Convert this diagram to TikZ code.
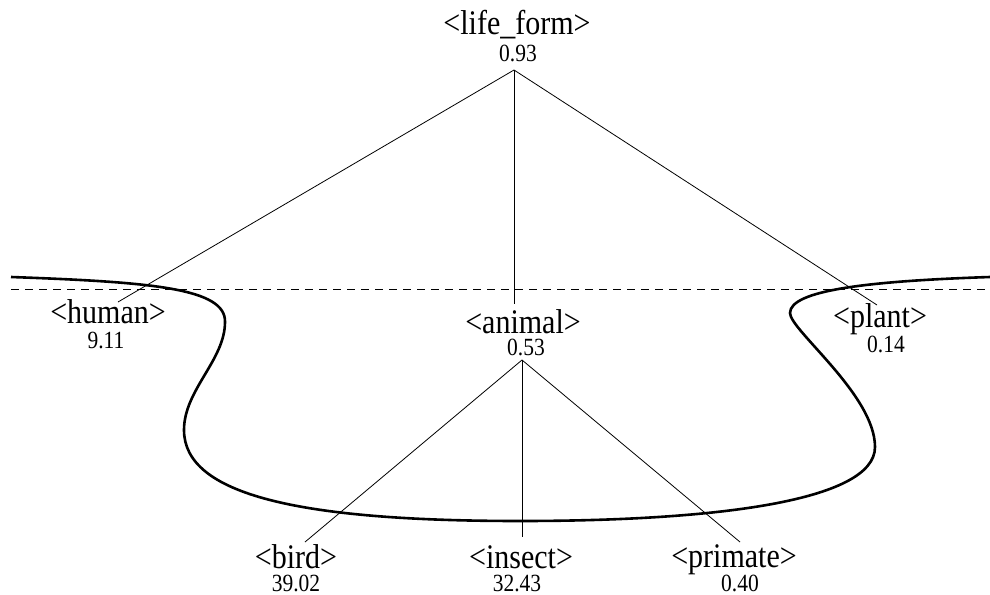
\documentclass[tikz,border=0pt]{standalone}
\usepackage{fontspec}
\setmainfont{Liberation Serif}
\newcommand\talltext[1]{\scalebox{1}[1.15]{#1}}
\begin{document}
\begin{tikzpicture}[x=1pt,y=-1pt,
  lab/.style={anchor=base,inner sep=0pt,font=\fontsize{30}{32}\selectfont},
  val/.style={anchor=base,inner sep=0pt,font=\fontsize{21.5}{23}\selectfont},
  edge/.style={line width=0.8pt},
  boundary/.style={line width=2.6pt},
  level/.style={line width=0.9pt,dash pattern=on 8pt off 6pt}]
\useasboundingbox (0,0) rectangle (990,594);
% nodes
\node[lab] (lf) at (517,35) {\talltext{<life\_form>}};
\node[val] (lfv) at (518,62) {\talltext{0.93}};
\node[lab] (human) at (108,323) {\talltext{<human>}};
\node[val] (humanv) at (106,348) {\talltext{9.11}};
\node[lab] (animal) at (523,333) {\talltext{<animal>}};
\node[val] (animalv) at (526,355) {\talltext{0.53}};
\node[lab] (plant) at (880,327) {\talltext{<plant>}};
\node[val] (plantv) at (886,352) {\talltext{0.14}};
\node[lab] (bird) at (296,568) {\talltext{<bird>}};
\node[val] (birdv) at (296,591.5) {\talltext{39.02}};
\node[lab] (insect) at (521,568) {\talltext{<insect>}};
\node[val] (insectv) at (517,591.5) {\talltext{32.43}};
\node[lab] (primate) at (734,567) {\talltext{<primate>}};
\node[val] (primatev) at (740,591.5) {\talltext{0.40}};
% connectors
\draw[edge] ([xshift=-4pt,yshift=-8pt]lfv.base) -- ([xshift=10pt,yshift=21pt]human.base);
\draw[edge] ([xshift=-4pt,yshift=-8pt]lfv.base) -- ([xshift=-9pt,yshift=29pt]animal.base);
\draw[edge] ([xshift=-4pt,yshift=-8pt]lfv.base) -- ([xshift=-3pt,yshift=22pt]plant.base);
\draw[edge] ([xshift=-4pt,yshift=-5pt]animalv.base) -- ([xshift=9pt,yshift=26pt]bird.base);
\draw[edge] ([xshift=-4pt,yshift=-5pt]animalv.base) -- ([xshift=1pt,yshift=31pt]insect.base);
\draw[edge] ([xshift=-4pt,yshift=-5pt]animalv.base) -- ([xshift=6pt,yshift=25pt]primate.base);
% dashed level line
\draw[level] (11,289) -- (990,289);
% boundary curve
\draw[boundary] (11,277) .. controls (150,282) and (226,288) .. (225,322)
  .. controls (225,360) and (184,390) .. (184,430)
  .. controls (184,495) and (300,521) .. (520,521)
  .. controls (710,521) and (875,502) .. (875,447)
  .. controls (875,395) and (790,330) .. (790,313)
  .. controls (790,290) and (870,281) .. (990,277);
\end{tikzpicture}
\end{document}
